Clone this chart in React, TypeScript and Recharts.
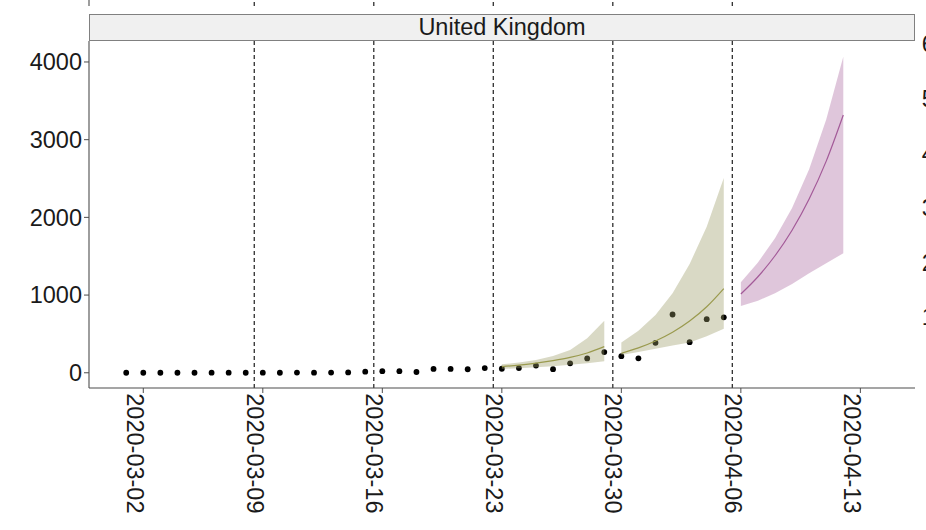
import React from 'react';
import { ComposedChart, Scatter, Area, Line, XAxis, YAxis, ReferenceLine } from 'recharts';

const FONT = '"Liberation Sans", Arial, Helvetica, sans-serif';
const TEXT = '#1a1a1a';
const AXIS = '#4d4d4d';

// day 0 = 2020-03-02
const tickDays = [0, 7, 14, 21, 28, 35, 42];
const tickLabels = ['2020-03-02', '2020-03-09', '2020-03-16', '2020-03-23', '2020-03-30', '2020-04-06', '2020-04-13'];
const weekBoundaries = [6.5, 13.5, 20.5, 27.5, 34.5];
const yTicks = [0, 1000, 2000, 3000, 4000];
const neighbourTicks = [0, 1000, 2000, 3000, 4000, 5000, 6000];
const X_DOMAIN: [number, number] = [-3.18, 45.2];
const Y_DOMAIN: [number, number] = [-196, 4270];

// observed daily deaths, starting 2020-03-01 (day -1)
const obsFirstDay = -1;
const obsDeaths = [
  0, 0, 0, 0, 0, 1, 1, 0, 1, 0, 2, 1, 2, 4, 14, 20, 20, 10, 49, 49, 45,
  60, 52, 60, 92, 46, 122, 185, 266, 214, 186, 386, 750, 394, 690, 714,
];

// forecast week 1 (starting 2020-03-23)
const fc1First = 21;
const fc1Low = [49, 59, 71, 85, 102, 123, 148];
const fc1Mid = [79, 99, 124, 157, 198, 255, 336];
const fc1High = [109, 132, 165, 216, 293, 443, 670];

// forecast week 2 (starting 2020-03-30)
const fc2First = 28;
const fc2Low = [230, 268, 310, 350, 390, 470, 568];
const fc2Mid = [251, 320, 409, 521, 665, 849, 1083];
const fc2High = [388, 540, 745, 1025, 1400, 1880, 2507];

// forecast week 3 (starting 2020-04-06)
const fc3First = 35;
const fc3Low = [860, 928, 1023, 1143, 1280, 1409, 1538];
const fc3Mid = [1014, 1236, 1506, 1835, 2236, 2724, 3318];
const fc3High = [1165, 1420, 1730, 2120, 2620, 3260, 4068];

const obsData = obsDeaths.map((v, i) => ({ day: obsFirstDay + i, deaths: v }));
const buildFc = (first: number, low: number[], mid: number[], high: number[]) =>
  mid.map((m, i) => ({ day: first + i, mid: m, range: [low[i], high[i]] }));
const fc1 = buildFc(fc1First, fc1Low, fc1Mid, fc1High);
const fc2 = buildFc(fc2First, fc2Low, fc2Mid, fc2High);
const fc3 = buildFc(fc3First, fc3Low, fc3Mid, fc3High);

const OLIVE_FILL = '#9c9c66';
const OLIVE_LINE = '#9a9a4e';
const PURPLE_FILL = '#ab69a0';
const PURPLE_LINE = '#a35a98';
const DASH = '#2e2e2e';

const XTick = (props: any) => {
  const { x, y, payload } = props;
  const idx = tickDays.indexOf(payload.value);
  const label = idx >= 0 ? tickLabels[idx] : String(payload.value);
  return (
    <text
      transform={`translate(${x - 16.1},${y - 1.7}) rotate(90)`}
      textAnchor="start"
      fontSize={23.5}
      fontFamily={FONT}
      fill={TEXT}
    >
      {label}
    </text>
  );
};

const Dot = (props: any) => {
  const { cx, cy } = props;
  if (cx == null || cy == null) return null;
  return <circle cx={cx} cy={cy} r={2.9} fill="#000" />;
};

export default function App() {
  return (
    <div
      style={{
        position: 'absolute',
        left: 0,
        top: 0,
        width: 926,
        height: 530,
        overflow: 'hidden',
        background: '#fff',
        fontFamily: FONT,
      }}
    >
      {/* fragment of the panel above */}
      <div style={{ position: 'absolute', left: 0, top: 0 }}>
        <ComposedChart width={926} height={6} margin={{ top: 0, right: 11, left: 0, bottom: 0 }} data={obsData}>
          <XAxis type="number" dataKey="day" domain={X_DOMAIN} allowDataOverflow hide />
          <YAxis width={89} type="number" domain={[0, 1]} allowDataOverflow tick={false} tickLine={false} axisLine={{ stroke: AXIS, strokeWidth: 1.1 }} />
          {weekBoundaries.map((d) => (
            <ReferenceLine key={d} x={d} stroke={DASH} strokeWidth={1.3} strokeDasharray="4 3" />
          ))}
        </ComposedChart>
      </div>

      {/* fragment of the panel to the right */}
      <div style={{ position: 'absolute', left: 900, top: 0 }}>
        <ComposedChart width={200} height={530} margin={{ top: 41, right: 0, left: 0, bottom: 142 }} data={[]}>
          <XAxis type="number" dataKey="day" domain={X_DOMAIN} allowDataOverflow hide />
          <YAxis
            width={81}
            type="number"
            domain={[-302, 6055]}
            ticks={neighbourTicks}
            allowDataOverflow
            interval={0}
            tickSize={5}
            axisLine={{ stroke: AXIS, strokeWidth: 1.1 }}
            tickLine={{ stroke: AXIS }}
            tick={{ fontSize: 23.5, fill: TEXT, fontFamily: FONT }}
          />
        </ComposedChart>
      </div>

      {/* strip */}
      <div
        style={{
          position: 'absolute',
          left: 89,
          top: 13.5,
          width: 826,
          height: 27.5,
          boxSizing: 'border-box',
          border: '1px solid #808080',
          background: '#f0f0f0',
          textAlign: 'center',
          fontSize: 23.5,
          lineHeight: '25.5px',
          color: TEXT,
          fontFamily: FONT,
          whiteSpace: 'nowrap',
        }}
      >
        United Kingdom
      </div>

      {/* main panel */}
      <div style={{ position: 'absolute', left: 0, top: 0 }}>
        <ComposedChart width={926} height={530} margin={{ top: 41, right: 11, left: 0, bottom: 0 }}>
          <XAxis
            type="number"
            dataKey="day"
            domain={X_DOMAIN}
            allowDataOverflow
            ticks={tickDays}
            interval={0}
            height={142}
            tickSize={5}
            tickMargin={2}
            axisLine={{ stroke: AXIS, strokeWidth: 1.1 }}
            tickLine={{ stroke: AXIS }}
            tick={<XTick />}
          />
          <YAxis
            type="number"
            width={89}
            domain={Y_DOMAIN}
            allowDataOverflow
            ticks={yTicks}
            interval={0}
            tickSize={5}
            tickMargin={2}
            axisLine={{ stroke: AXIS, strokeWidth: 1.1 }}
            tickLine={{ stroke: AXIS }}
            tick={{ fontSize: 23.5, fill: TEXT, fontFamily: FONT }}
          />
          {weekBoundaries.map((d) => (
            <ReferenceLine key={d} x={d} stroke={DASH} strokeWidth={1.3} strokeDasharray="4 3" />
          ))}
          <Scatter
            data={obsData}
            dataKey="deaths"
            shape={<Dot />}
            isAnimationActive={false}
            zIndex={50}
          />
          <Area data={fc1} dataKey="range" type="linear" stroke="none" fill={OLIVE_FILL} fillOpacity={0.38} isAnimationActive={false} dot={false} activeDot={false} />
          <Area data={fc2} dataKey="range" type="linear" stroke="none" fill={OLIVE_FILL} fillOpacity={0.38} isAnimationActive={false} dot={false} activeDot={false} />
          <Area data={fc3} dataKey="range" type="linear" stroke="none" fill={PURPLE_FILL} fillOpacity={0.38} isAnimationActive={false} dot={false} activeDot={false} />
          <Line data={fc1} dataKey="mid" type="monotone" stroke={OLIVE_LINE} strokeWidth={1.2} dot={false} activeDot={false} isAnimationActive={false} />
          <Line data={fc2} dataKey="mid" type="monotone" stroke={OLIVE_LINE} strokeWidth={1.2} dot={false} activeDot={false} isAnimationActive={false} />
          <Line data={fc3} dataKey="mid" type="monotone" stroke={PURPLE_LINE} strokeWidth={1.2} dot={false} activeDot={false} isAnimationActive={false} />
        </ComposedChart>
      </div>
    </div>
  );
}
